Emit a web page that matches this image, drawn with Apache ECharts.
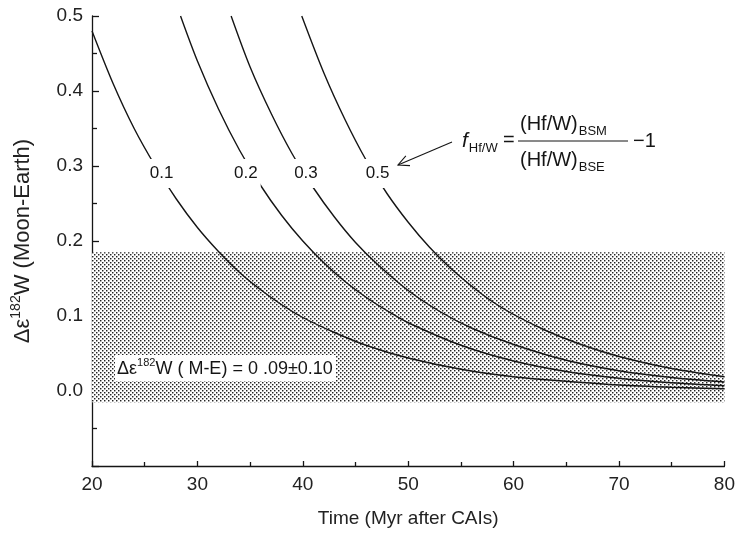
<!DOCTYPE html>
<html><head><meta charset="utf-8">
<script src="https://cdn.jsdelivr.net/npm/echarts@6/dist/echarts.min.js"></script>
<style>html,body{margin:0;padding:0;background:#fff}#c{width:738px;height:534px}</style>
</head><body><div id="c"></div>
<script>
const FONT = '"Liberation Sans", Arial, Helvetica, sans-serif';
const INK = '#151515';

// axis ranges
const xRange = [20, 80];
const yRange = [-0.1, 0.5];

// curve labels (f Hf/W values)
const curveNames = ['0.1', '0.2', '0.3', '0.5'];

// curve f = 0.1
const t01 = [20, 22, 24, 26, 28, 30, 32, 34, 36, 38, 40, 43, 46, 50, 55, 60, 65, 70, 75, 80];
const v01 = [0.480, 0.410, 0.350, 0.300, 0.256, 0.218, 0.186, 0.158, 0.135, 0.115, 0.098, 0.078, 0.061, 0.044, 0.029, 0.019, 0.013, 0.008, 0.005, 0.003];
// curve f = 0.2
const t02 = [28.4, 30, 32, 34, 36, 38, 40, 42, 44, 46, 48, 50, 55, 60, 65, 70, 75, 80];
const v02 = [0.500, 0.440, 0.376, 0.321, 0.274, 0.234, 0.200, 0.171, 0.146, 0.125, 0.107, 0.091, 0.061, 0.040, 0.026, 0.017, 0.011, 0.007];
// curve f = 0.3
const t03 = [33.2, 35, 37, 39, 41, 43, 45, 47, 50, 53, 56, 60, 65, 70, 75, 80];
const v03 = [0.500, 0.432, 0.370, 0.316, 0.271, 0.232, 0.198, 0.170, 0.134, 0.106, 0.084, 0.062, 0.041, 0.027, 0.018, 0.012];
// curve f = 0.5
const t05 = [39.9, 42, 44, 46, 48, 50, 52, 54, 56, 58, 60, 63, 66, 70, 75, 80];
const v05 = [0.500, 0.424, 0.362, 0.308, 0.263, 0.225, 0.192, 0.164, 0.140, 0.119, 0.102, 0.081, 0.064, 0.046, 0.030, 0.019];

// label positions on curves
const labelT = [26.6, 34.6, 40.3, 47.1];
const labelV = [0.29, 0.29, 0.29, 0.29];

// measured band Δε182W (M-E)
const band = [-0.015, 0.185];

const curvesT = [t01, t02, t03, t05];
const curvesV = [v01, v02, v03, v05];

// dotted pattern
const pc = document.createElement('canvas');
pc.width = 4; pc.height = 4;
const g = pc.getContext('2d');
g.fillStyle = '#ffffff'; g.fillRect(0, 0, 4, 4);
[[0, 0], [2, 2]].forEach(([px, py]) => {
  g.fillStyle = '#222222'; g.fillRect(px, py, 1, 1);
  g.fillStyle = '#9a9a9a'; g.fillRect(px + 1, py, 1, 1); g.fillRect(px, py + 1, 1, 1);
  g.fillStyle = '#d4d4d4'; g.fillRect(px + 1, py + 1, 1, 1);
});
const pattern = { image: pc, repeat: 'repeat' };

// text measuring
const mctx = document.createElement('canvas').getContext('2d');
function tw(text, size, style) { mctx.font = (style ? style + ' ' : '') + size + 'px ' + FONT; return mctx.measureText(text).width; }

const chart = echarts.init(document.getElementById('c'), null, { renderer: 'canvas' });

const axisLineStyle = { color: INK, width: 1.3 };

const series = [];
series.push({
  type: 'line', data: [], z: 1, silent: true,
  markArea: {
    silent: true,
    itemStyle: { color: pattern, borderWidth: 0 },
    label: { show: false },
    data: [[{ xAxis: xRange[0], yAxis: band[0] }, { xAxis: xRange[1], yAxis: band[1] }]]
  }
});
curvesT.forEach((ts, i) => {
  series.push({
    type: 'line', z: 3, silent: true,
    smooth: 0.3,
    showSymbol: false, symbol: 'none',
    lineStyle: { color: INK, width: 1.4 },
    data: ts.map((t, j) => [t, curvesV[i][j]])
  });
});
series.push({
  type: 'scatter', z: 5, silent: true,
  symbolSize: 1, itemStyle: { color: 'rgba(0,0,0,0)' },
  label: {
    show: true, position: 'inside', formatter: p => p.value[2],
    color: INK, fontSize: 17, fontFamily: FONT, opacity: 1,
    backgroundColor: '#ffffff', padding: [6, 3]
  },
  data: labelT.map((t, i) => [t, labelV[i], curveNames[i]])
});

// arrow geometry
const tip = [398, 165], tail = [452, 142];
const dx = tail[0] - tip[0], dy = tail[1] - tip[1];
const L = Math.hypot(dx, dy), ux = dx / L, uy = dy / L;
const hl = 12, ang = 26 * Math.PI / 180;
const rot = a => [tip[0] + hl * (ux * Math.cos(a) - uy * Math.sin(a)), tip[1] + hl * (ux * Math.sin(a) + uy * Math.cos(a))];
const h1 = rot(ang), h2 = rot(-ang);

const txt = (x, y, text, size, fstyle) => ({
  type: 'text', x: x, y: y, z: 10,
  style: { text: text, fill: INK, font: (fstyle ? fstyle + ' ' : '') + size + 'px ' + FONT, align: 'left', verticalAlign: 'middle' }
});

const FS = 20, SS = 13;
const wf = tw('f', FS + 1, 'italic');
const wHW = tw('(Hf/W)', FS);

chart.setOption({
  animation: false,
  backgroundColor: '#ffffff',
  grid: { left: 92, right: 12, top: 16, bottom: 68, containLabel: false },
  xAxis: {
    type: 'value', min: xRange[0], max: xRange[1], interval: 10,
    axisLine: { show: true, onZero: false, lineStyle: axisLineStyle },
    axisTick: { show: true, inside: true, length: 5, lineStyle: axisLineStyle },
    minorTick: { show: true, splitNumber: 2, length: 4, lineStyle: axisLineStyle },
    splitLine: { show: false },
    axisLabel: { color: '#222', fontSize: 19, fontFamily: FONT, margin: 9 },
    name: 'Time (Myr after CAIs)', nameLocation: 'middle', nameGap: 43,
    nameTextStyle: { color: '#222', fontSize: 19, fontFamily: FONT }
  },
  yAxis: {
    type: 'value', min: yRange[0], max: yRange[1], interval: 0.1,
    axisLine: { show: true, onZero: false, lineStyle: axisLineStyle },
    axisTick: { show: true, inside: true, length: 7, lineStyle: axisLineStyle },
    minorTick: { show: true, splitNumber: 2, length: 5, lineStyle: axisLineStyle },
    splitLine: { show: false },
    axisLabel: { color: '#222', fontSize: 19, fontFamily: FONT, margin: 9,
      formatter: v => (v < -0.05 ? '' : v.toFixed(1)) },
    name: '{n|Δε}{s|182}{n|W (Moon-Earth)}', nameLocation: 'middle', nameGap: 58,
    nameTextStyle: {
      color: '#222', fontFamily: FONT,
      rich: {
        n: { fontSize: 22, fontFamily: FONT, color: '#222', lineHeight: 25, verticalAlign: 'bottom' },
        s: { fontSize: 14, fontFamily: FONT, color: '#222', lineHeight: 25, verticalAlign: 'top' }
      }
    }
  },
  series: series,
  graphic: [
    // band label box
    { type: 'rect', z: 9, shape: { x: 115, y: 355, width: 221, height: 26 }, style: { fill: '#ffffff' } },
    {
      type: 'text', x: 117, y: 368, z: 10,
      style: {
        text: '{n|Δε}{s|182}{n|W ( M-E) = 0 .09±0.10}',
        fill: INK, font: '18px ' + FONT, verticalAlign: 'middle', align: 'left',
        rich: {
          n: { fontSize: 18, fontFamily: FONT, fill: INK, lineHeight: 21, verticalAlign: 'bottom' },
          s: { fontSize: 11, fontFamily: FONT, fill: INK, lineHeight: 21, verticalAlign: 'top' }
        }
      }
    },
    // formula
    txt(462, 141, 'f', FS + 1, 'italic'),
    txt(462 + wf + 1, 148, 'Hf/W', SS),
    txt(503, 140, '=', FS),
    txt(520, 124, '(Hf/W)', FS),
    txt(520 + wHW + 1, 131, 'BSM', SS),
    { type: 'line', z: 10, shape: { x1: 518, y1: 141, x2: 628, y2: 141 }, style: { stroke: INK, lineWidth: 1 } },
    txt(520, 160, '(Hf/W)', FS),
    txt(520 + wHW + 1, 167, 'BSE', SS),
    txt(633, 141, '−1', FS),
    // arrow
    { type: 'line', z: 10, shape: { x1: tail[0], y1: tail[1], x2: tip[0], y2: tip[1] }, style: { stroke: INK, lineWidth: 1.1 } },
    { type: 'polyline', z: 10, shape: { points: [h1, tip, h2] }, style: { stroke: INK, lineWidth: 1.1, fill: null } }
  ]
});
</script>
</body></html>
